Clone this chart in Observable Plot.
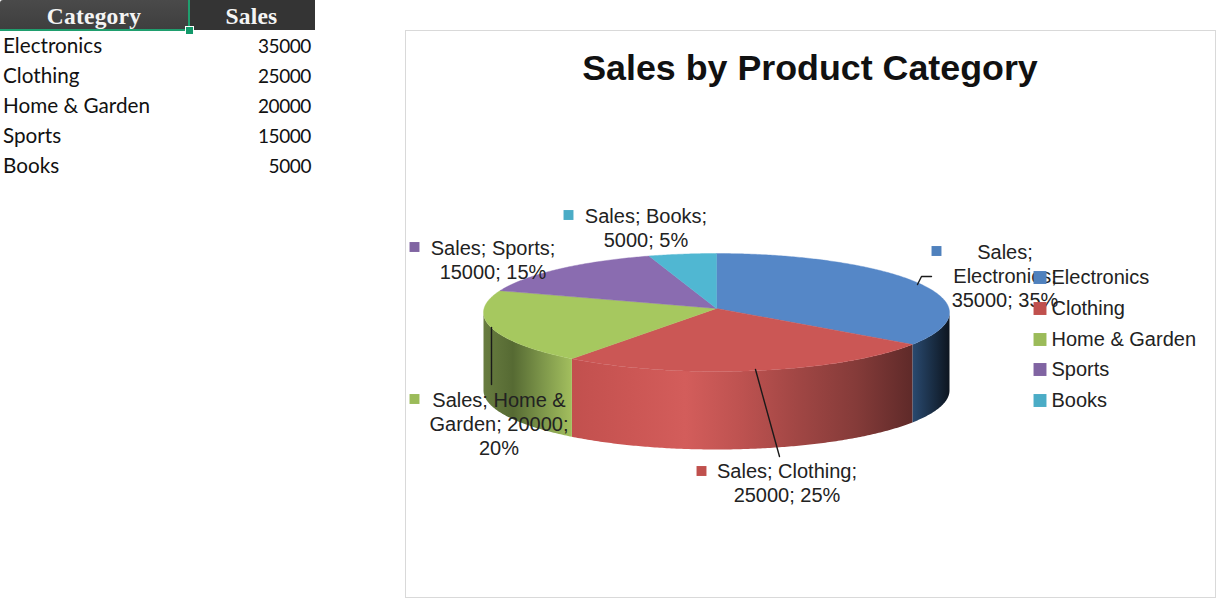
<!DOCTYPE html>
<html>
<head>
<meta charset="utf-8">
<script src="https://cdn.jsdelivr.net/npm/d3@7"></script>
<script src="https://cdn.jsdelivr.net/npm/@observablehq/plot@0.6"></script>
<style>
html,body{margin:0;padding:0;background:#fff;width:1220px;height:606px;overflow:hidden}
#sheet{position:absolute;left:0;top:0;width:315px;font:20.7px Lato,"Open Sans",sans-serif;color:#111}
#sheet .h{position:absolute;top:0;height:30px;text-align:center;color:#f4f4f4;font:bold 23.5px/33px "Liberation Serif",serif;letter-spacing:.2px}
#sheet .h.a{left:0;width:188px;background:linear-gradient(#4a4a4a,#3e3e3e);border-radius:3px 0 0 0}
#sheet .h.b{left:188px;width:127px;background:#343434}
#sheet .c{position:absolute;left:3px;height:30px;line-height:30px}
#sheet .v{position:absolute;right:4px;height:30px;line-height:31px;text-align:right;font-size:19px;letter-spacing:-.4px}
#sel1{position:absolute;left:0;top:29px;width:189px;height:2px;background:#1f9e6e}
#sel2{position:absolute;left:188px;top:0;width:2px;height:30px;background:#1f9e6e}
#sel3{position:absolute;left:186px;top:27px;width:7px;height:7px;background:#12996a;border:1px solid #fff;box-sizing:content-box;margin:-1px}
#frame{position:absolute;left:405px;top:30px;width:809px;height:566px;border:1px solid #d9d9d9;background:#fff}
#frame svg{display:block}
</style>
</head>
<body>
<div id="sheet"></div>
<div id="frame"></div>
<script>
const headers = ["Category", "Sales"];
const categories = ["Electronics", "Clothing", "Home & Garden", "Sports", "Books"];
const sales = [35000, 25000, 20000, 15000, 5000];
const title = "Sales by Product Category";
const dataLabels = [
  "Sales;\nElectronics;\n35000; 35%",
  "Sales; Clothing;\n25000; 25%",
  "Sales; Home &\nGarden; 20000;\n20%",
  "Sales; Sports;\n15000; 15%",
  "Sales; Books;\n5000; 5%"
];
const swatchColors = ["#4f81bd", "#c0504d", "#9bbb59", "#8064a2", "#4bacc6"];
const topColors = ["#5587c7", "#cb5755", "#a6c85f", "#8a6cb0", "#50b7d2"];
const wallStops = [
  ["#2a4a70", "#1b3048", "#0d1520"],
  ["#c2504e", "#cb5654", "#d35d5b", "#bd5250", "#a04644", "#853b39", "#5f2a29"],
  ["#687c40", "#566a33", "#7d964a", "#a3bf5e"],
  [], []
];

// layout, in page pixels
const ORIGIN = {x: 406, y: 31};
const DISC = {left: 483, right: 949, top: 253, bottom: 371, tilt: -0.068, depth: 78};
const labelPos = [[1004.5, 275], [786.5, 482], [498.5, 423], [492.5, 259], [645.5, 227]];
const labelSwatch = [[936, 250.5], [701, 470.5], [414, 398.5], [414, 246.5], [568, 214.5]];
const legendY = [277, 308, 339, 369, 400];
const legendSwatchX = 1039.5, legendTextX = 1051;
const leaders = [
  [[917, 284], [921, 276], [931, 276]],
  [[755, 369], [779, 456]],
  [[491, 327], [491, 384]]
];

// helpers: page px -> pie units
const ux = px => (px - (DISC.left + DISC.right) / 2) / ((DISC.right - DISC.left) / 2);
const uy = py => (py - (DISC.top + DISC.bottom) / 2) / ((DISC.bottom - DISC.top) / 2);
const depthU = DISC.depth / ((DISC.bottom - DISC.top) / 2);

// perspective view of a unit disc seen from above: angle measured clockwise from 12 o'clock
function rim(theta) {
  const a = DISC.tilt, u = Math.sin(theta), v = -Math.cos(theta), w = 1 + a * v;
  return {x: u * Math.sqrt(1 - a * a) / w, y: (v + a) / w};
}
const apex = {x: 0, y: DISC.tilt};
const arcs = d3.pie().sort(null)(sales);

const topPts = [];
const wallPts = [];
const visStart = Math.acos(-0.068), visEnd = 2 * Math.PI - visStart;
arcs.forEach((arc, i) => {
  const n = Math.ceil((arc.endAngle - arc.startAngle) / 0.01);
  const poly = [apex];
  for (let k = 0; k <= n; k++) poly.push(rim(arc.startAngle + (arc.endAngle - arc.startAngle) * k / n));
  poly.push(apex);
  poly.forEach(p => topPts.push({...p, slice: categories[i], fill: topColors[i]}));

  const t0 = Math.max(arc.startAngle, visStart), t1 = Math.min(arc.endAngle, visEnd);
  if (t1 <= t0 || !wallStops[i].length) return;
  const m = Math.ceil((t1 - t0) / 0.01);
  const upper = d3.range(m + 1).map(k => rim(t0 + (t1 - t0) * k / m));
  const lower = upper.map(p => ({x: p.x, y: p.y + depthU})).reverse();
  [...upper, ...lower].forEach(p => wallPts.push({...p, slice: categories[i], fill: `url(#wall${i})`}));
});

// horizontal shading of the side wall: one gradient per slice, spanning that wall's own extent
function wallGradients() {
  const defs = d3.create("svg:defs");
  wallStops.forEach((stops, i) => {
    if (!stops.length) return;
    const g = defs.append("linearGradient").attr("id", `wall${i}`)
      .attr("x1", 0).attr("x2", 1).attr("y1", 0).attr("y2", 0);
    stops.forEach((c, k) => g.append("stop")
      .attr("offset", k / (stops.length - 1)).attr("stop-color", c));
  });
  return defs.node();
}

const row = (cat, i) => ({cat, i, x: ux(labelPos[i][0]), y: uy(labelPos[i][1]), label: dataLabels[i],
  sx: ux(labelSwatch[i][0]), sy: uy(labelSwatch[i][1]), ly: uy(legendY[i])});
const rows = categories.map(row);
const leaderPts = leaders.flatMap((l, i) => l.map(([x, y]) => ({x: ux(x), y: uy(y), id: i})));
const textFont = "'Liberation Sans', Arial, sans-serif";

const chart = Plot.plot({
  width: 809, height: 566,
  marginTop: 0, marginRight: 0, marginBottom: 0, marginLeft: 0,
  style: {background: "#fff", fontFamily: textFont},
  x: {domain: [-1, 1], range: [DISC.left - ORIGIN.x, DISC.right - ORIGIN.x], axis: null},
  y: {domain: [-1, 1], range: [DISC.top - ORIGIN.y, DISC.bottom - ORIGIN.y], axis: null},
  color: {domain: categories, range: swatchColors},
  marks: [
    wallGradients,
    Plot.text([title], {frameAnchor: "top", lineAnchor: "middle", dy: 37.5, dx: -1, text: d => d,
      fontSize: 35.8, fontWeight: "bold", fill: "#111"}),
    Plot.line(wallPts, {x: "x", y: "y", z: "slice", fill: "fill", stroke: "none"}),
    Plot.line(topPts, {x: "x", y: "y", z: "slice", fill: "fill", stroke: "fill", strokeWidth: 0.4}),
    Plot.line(leaderPts, {x: "x", y: "y", z: "id", stroke: "#1a1a1a", strokeWidth: 1.4}),
    Plot.text(rows, {x: "x", y: "y", text: "label", fontSize: 20, lineHeight: 1.21, fill: "#222", lineAnchor: "middle"}),
    Plot.dot(rows, {x: "sx", y: "sy", symbol: "square", r: 5.6, fill: "cat", stroke: "none"}),
    Plot.dot(rows, {x: () => ux(legendSwatchX), y: "ly", symbol: "square", r: 7.3, fill: "cat", stroke: "none"}),
    Plot.text(rows, {x: () => ux(legendTextX), y: "ly", text: "cat", textAnchor: "start", fontSize: 20, fill: "#222", lineAnchor: "middle"})
  ]
});
document.getElementById("frame").append(chart);

// worksheet table
const sheet = document.getElementById("sheet");
const add = (cls, text, top) => {
  const el = document.createElement("div");
  el.className = cls; el.textContent = text;
  if (top !== undefined) el.style.top = top + "px";
  sheet.append(el);
};
add("h a", headers[0]); add("h b", headers[1]);
categories.forEach((c, i) => { add("c", c, 30 + i * 30); add("v", sales[i], 30 + i * 30); });
["sel1", "sel2", "sel3"].forEach(id => { const e = document.createElement("div"); e.id = id; sheet.append(e); });
</script>
</body>
</html>
